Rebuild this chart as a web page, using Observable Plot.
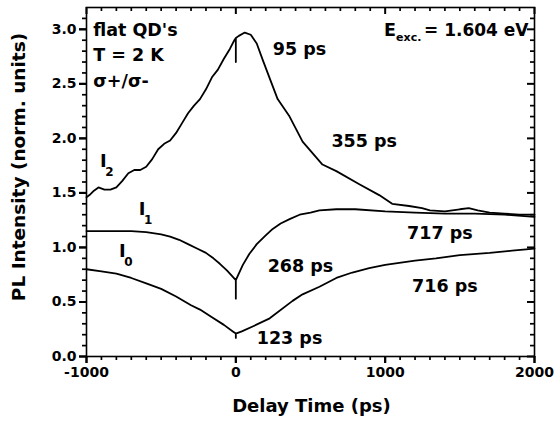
<!DOCTYPE html>
<html><head><meta charset="utf-8">
<script src="https://cdn.jsdelivr.net/npm/d3@7"></script>
<script src="https://cdn.jsdelivr.net/npm/@observablehq/plot@0.6"></script>
<style>body{margin:0;background:#fff}</style>
</head><body><div id="chart"></div>
<script>
// Series I2 (top curve)
const i2Time = [-1000,-980,-950,-920,-880,-840,-800,-760,-720,-680,-640,-600,-560,-520,-480,-440,-400,-360,-320,-280,-240,-200,-160,-120,-80,-40,-10,0,0,0,20,60,100,140,180,227,280,360,447,580,673,827,960,1047,1160,1247,1300,1400,1500,1560,1620,1700,1800,1900,2000];
const i2Value = [1.46,1.48,1.52,1.55,1.53,1.53,1.55,1.61,1.68,1.71,1.71,1.74,1.81,1.90,1.95,1.98,2.05,2.14,2.23,2.30,2.36,2.45,2.56,2.63,2.73,2.82,2.90,2.92,2.70,2.92,2.94,2.97,2.95,2.87,2.72,2.55,2.36,2.20,1.97,1.76,1.70,1.58,1.48,1.40,1.38,1.36,1.34,1.33,1.35,1.36,1.34,1.32,1.31,1.30,1.30];
// Series I1 (middle curve)
const i1Time = [-1000,-900,-800,-700,-600,-500,-440,-380,-320,-260,-200,-150,-107,-60,-20,0,0,0,20,47,90,140,200,247,300,360,427,500,560,673,800,1000,1200,1400,1600,1800,2000];
const i1Value = [1.15,1.15,1.15,1.15,1.14,1.12,1.10,1.07,1.03,0.99,0.95,0.90,0.85,0.79,0.73,0.70,0.53,0.70,0.76,0.84,0.94,1.03,1.11,1.17,1.22,1.26,1.30,1.32,1.34,1.35,1.35,1.33,1.32,1.31,1.31,1.30,1.28];
// Series I0 (bottom curve)
const i0Time = [-1000,-900,-800,-700,-600,-500,-400,-300,-240,-160,-80,-20,0,0,0,40,120,227,380,447,560,673,780,893,1000,1200,1340,1500,1700,1850,2000];
const i0Value = [0.80,0.78,0.76,0.72,0.67,0.62,0.55,0.47,0.43,0.36,0.29,0.23,0.21,0.17,0.21,0.23,0.28,0.35,0.51,0.57,0.64,0.72,0.77,0.81,0.84,0.88,0.90,0.93,0.95,0.97,0.99];

// Tick values
const xMajor = [-1000, 0, 1000, 2000];
const xMinor = [-900,-800,-700,-600,-500,-400,-300,-200,-100,100,200,300,400,500,600,700,800,900,1100,1200,1300,1400,1500,1600,1700,1800,1900];
const yMajor = [0, 0.5, 1.0, 1.5, 2.0, 2.5, 3.0];
const yMinor = [0.1,0.2,0.3,0.4,0.6,0.7,0.8,0.9,1.1,1.2,1.3,1.4,1.6,1.7,1.8,1.9,2.1,2.2,2.3,2.4,2.6,2.7,2.8,2.9,3.1];

// Time-constant annotations
const tauText = ["95 ps", "355 ps", "717 ps", "268 ps", "716 ps", "123 ps"];
const tauX = [247, 640, 1147, 213, 1180, 140];
const tauY = [2.82, 1.97, 1.13, 0.83, 0.645, 0.17];

// Info text
const infoText = ["flat QD's", "T = 2 K", "σ+/σ-"];
const infoY = [2.99, 2.76, 2.52];

// Curve names
const curveSub = ["2", "1", "0"];
const curveX = [-887, -627, -760];
const curveY = [1.79, 1.35, 0.965];

const W = 554, H = 421, mL = 86, mR = 20, mT = 7, mB = 65;
const xDom = [-1000, 2000], yDom = [0, 3.2];
const innerW = W - mL - mR, innerH = H - mT - mB;
const xPerPx = (xDom[1] - xDom[0]) / innerW;   // data units per pixel
const yPerPx = (yDom[1] - yDom[0]) / innerH;

const rows = [];
[["I2", i2Time, i2Value], ["I1", i1Time, i1Value], ["I0", i0Time, i0Value]].forEach(([s, t, v]) => {
  t.forEach((tt, i) => rows.push({series: s, t: tt, v: v[i]}));
});
const tau = tauText.map((s, i) => ({s, x: tauX[i], y: tauY[i]}));
const info = infoText.map((s, i) => ({s, y: infoY[i]}));
const curves = curveSub.map((s, i) => ({s, x: curveX[i], y: curveY[i]}));

const font = "DejaVu Sans, Liberation Sans, Arial, sans-serif";
const tk = {stroke: "black"};
const MAJ = 7, MIN = 4;

function xTicks(vals, len, w) {
  return [
    Plot.ruleX(vals, {x: d => d, y1: yDom[0], y2: yDom[0] - len * yPerPx, stroke: "black", strokeWidth: w}),
    Plot.ruleX(vals, {x: d => d, y1: yDom[1], y2: yDom[1] - len * yPerPx, stroke: "black", strokeWidth: w})
  ];
}
function yTicks(vals, len, w) {
  return [
    Plot.ruleY(vals, {y: d => d, x1: xDom[0], x2: xDom[0] - len * xPerPx, stroke: "black", strokeWidth: w}),
    Plot.ruleY(vals, {y: d => d, x1: xDom[1], x2: xDom[1] - len * xPerPx, stroke: "black", strokeWidth: w})
  ];
}

const chart = Plot.plot({
  width: W, height: H,
  marginLeft: mL, marginRight: mR, marginTop: mT, marginBottom: mB,
  style: {fontFamily: font, fontWeight: "bold", color: "black", background: "white"},
  x: {domain: xDom},
  y: {domain: yDom},
  marks: [
    Plot.frame({stroke: "black", fill: "none", strokeWidth: 1.6}),
    Plot.axisX({ticks: xMajor, anchor: "bottom", tickSize: MAJ, tickPadding: 4, fontSize: 14, fontWeight: "bold", label: null, tickFormat: d => String(d), ...tk, strokeWidth: 2}),
    Plot.axisY({ticks: yMajor, anchor: "left", tickSize: MAJ, tickPadding: 3, fontSize: 14, fontWeight: "bold", label: null, tickFormat: d3.format(".1f"), ...tk, strokeWidth: 2}),
    ...xTicks(xMajor, MAJ, 2), ...xTicks(xMinor, MIN, 1.7),
    ...yTicks(yMajor, MAJ, 2), ...yTicks(yMinor, MIN, 1.7),
    Plot.line(rows, {x: "t", y: "v", z: "series", stroke: "black", strokeWidth: 1.8}),
    Plot.text(tau, {x: "x", y: "y", text: "s", textAnchor: "start", fontSize: 17.5, fontWeight: "bold", fill: "black"}),
    Plot.text(info, {x: () => -955, y: "y", text: "s", textAnchor: "start", fontSize: 17.5, fontWeight: "bold", fill: "black"}),
    Plot.text(curves, {x: "x", y: "y", text: () => "I", fontSize: 18, fontWeight: "bold", fill: "black"}),
    Plot.text(curves, {x: "x", y: "y", text: "s", dx: 6, dy: 11, fontSize: 12, fontWeight: "bold", fill: "black"}),
    Plot.text(["E"], {x: () => 993, y: () => 2.99, text: d => d, textAnchor: "start", fontSize: 17.5, fontWeight: "bold", fill: "black"}),
    Plot.text(["exc."], {x: () => 993, y: () => 2.99, text: d => d, textAnchor: "start", dx: 12, dy: 7, fontSize: 11, fontWeight: "bold", fill: "black"}),
    Plot.text(["= 1.604 eV"], {x: () => 1960, y: () => 2.99, text: d => d, textAnchor: "end", fontSize: 17, fontWeight: "bold", fill: "black"}),
    Plot.text(["PL Intensity (norm. units)"], {frameAnchor: "left", text: d => d, rotate: -90, textAnchor: "middle", dx: -67, dy: -15, fontSize: 18.5, fontWeight: "bold", fill: "black"}),
    Plot.text(["Delay Time (ps)"], {frameAnchor: "bottom", text: d => d, textAnchor: "middle", dx: 1, dy: 55, fontSize: 18, fontWeight: "bold", fill: "black"})
  ]
});
document.getElementById("chart").append(chart);
</script>
</body></html>
